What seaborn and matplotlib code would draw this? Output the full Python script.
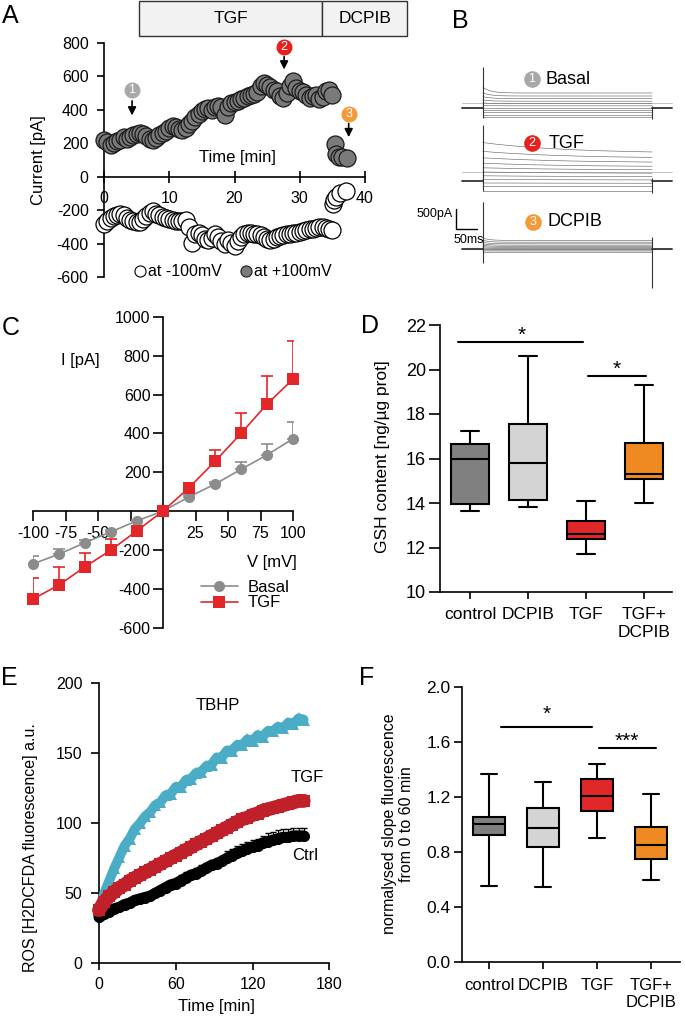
import numpy as np
import pandas as pd
import matplotlib
matplotlib.use("Agg")
import matplotlib.pyplot as plt
import matplotlib.transforms as mtransforms
from matplotlib.lines import Line2D
from matplotlib.patches import Rectangle
import seaborn as sns

# ---------------- Panel A data ----------------
a_time = [0, 0.5, 1, 1.5, 2, 2.5, 3, 3.5, 4, 4.5, 5, 5.5, 6, 6.5, 7, 7.5, 8, 8.5, 9, 9.5,
          10, 10.5, 11, 11.5, 12, 12.5, 13, 13.5, 14, 14.5, 15, 15.5, 16, 16.5, 17, 17.5,
          18, 18.5, 19, 19.5, 20, 20.5, 21, 21.5, 22, 22.5, 23, 23.5, 24, 24.5, 25, 25.5,
          26, 26.5, 27, 27.5, 28, 28.5, 29, 29.5, 30, 30.5, 31, 31.5, 32, 32.5, 33, 33.5,
          34, 34.5, 35]
a_pos = [222, 205, 190, 200, 215, 220, 235, 225, 240, 250, 255, 262, 258, 245, 225, 218,
         232, 250, 262, 275, 290, 305, 300, 285, 280, 290, 315, 335, 355, 375, 395, 405,
         410, 400, 415, 425, 420, 372, 415, 440, 450, 455, 465, 470, 480, 488, 495, 505,
         540, 560, 550, 535, 520, 510, 480, 470, 500, 540, 570, 530, 515, 505, 490, 470,
         480, 490, 462, 475, 510, 520, 490]
a_neg = [-285, -265, -245, -235, -228, -222, -232, -248, -258, -265, -272, -268, -255,
         -235, -215, -208, -222, -232, -240, -248, -252, -258, -262, -265, -262, -258,
         -300, -395, -345, -335, -350, -370, -378, -365, -345, -360, -385, -405, -380,
         -395, -412, -385, -360, -345, -338, -335, -345, -340, -350, -360, -370, -378,
         -372, -362, -355, -350, -345, -345, -338, -335, -330, -322, -318, -312, -310,
         -305, -302, -300, -305, -312, -320]
a_dcpib_time_pos = [35.4, 35.6, 36.0, 36.5, 37.2]
a_dcpib_pos = [195, 135, 118, 120, 112]
a_dcpib_time_neg = [35.1, 35.3, 35.6, 36.1, 37.1]
a_dcpib_neg = [-165, -140, -120, -100, -88]
treat_labels = ["TGF", "DCPIB"]
treat_start = [5.4, 33.4]
treat_end = [33.4, 46.5]
badge_ids = ["1", "2", "3"]
badge_colors = ["#a8a8a8", "#e3221f", "#f39a3a"]
badge_time = [4.3, 27.6, 37.5]
badge_level = [521, 778, 377]
arrow_from = [470, 735, 335]
arrow_to = [350, 625, 220]

# ---------------- Panel B data (current traces, ms / pA) ----------------
b_names = ["Basal", "TGF", "DCPIB"]
b_baseline = [4800, 2975, 1275]
b_end = [[-225, -165, -110, -55, 0, 55, 110, 170, 235, 300, 375],
         [-242, -142, -57, 25, 108, 192, 275, 357, 457, 567, 690],
         [-75, -50, -25, -5, 15, 40, 65, 95, 130, 170, 215]]
b_onset = [[-225, -165, -110, -55, 0, 60, 125, 200, 285, 380, 520],
           [-242, -140, -50, 40, 130, 225, 330, 445, 580, 740, 960],
           [-75, -48, -20, 5, 30, 60, 95, 130, 170, 220, 275]]
b_tau = [18, 200, 15]
b_spike_on = [(-240, 1025), (-260, 1400), (-350, 1180)]
b_spike_off = [(-280, 60), (-300, 80), (-975, 310)]
b_zero = [125, 225, 0]
b_t_start, b_t_on, b_t_off, b_t_end = 52, 102, 505, 552
b_badge_t = [219, 219, 221]
b_badge_y = [5525, 3925, 1950]
b_label_t = [250, 259, 257]
sb_t0, sb_ms, sb_y0, sb_pA = 38, 50, 1775, 500

# ---------------- Panel C data ----------------
c_voltage = [-100, -80, -60, -40, -20, 0, 20, 40, 60, 80, 100]
c_basal = [-272, -222, -163, -107, -50, 0, 73, 139, 215, 289, 373]
c_basal_err = [40, 25, 15, 10, 6, 0, 8, 10, 40, 57, 88]
c_tgf = [-453, -381, -287, -201, -101, 0, 120, 256, 400, 551, 680]
c_tgf_err = [107, 95, 69, 55, 12, 0, 12, 58, 103, 146, 198]

# ---------------- Panel D data (five-number summaries) ----------------
groups = ["control", "DCPIB", "TGF", "TGF+\nDCPIB"]
box_colors = ["#808080", "#d4d4d4", "#e02828", "#ef8a23"]
d_min = [13.65, 13.80, 11.70, 14.00]
d_q1 = [13.95, 14.15, 12.38, 15.09]
d_med = [15.96, 15.78, 12.59, 15.30]
d_q3 = [16.65, 17.53, 13.19, 16.68]
d_max = [17.24, 20.60, 14.09, 19.30]

# ---------------- Panel E data ----------------
e_time = [0, 4, 8, 12, 16, 20, 24, 28, 32, 36, 40, 44, 48, 52, 56, 60, 64, 68, 72, 76, 80,
          84, 88, 92, 96, 100, 104, 108, 112, 116, 120, 124, 128, 132, 136, 140, 144, 148,
          152, 156, 160]
e_tbhp = [38, 50, 59, 68, 76, 84, 89, 96, 100, 105, 108, 113, 115, 120, 121, 126, 126, 131,
          132, 136, 137, 141, 142, 147, 147, 152, 152, 156, 156, 160, 159, 163, 162, 166,
          166, 169, 168, 172, 171, 175, 174]
e_tgf = [38, 44, 48, 51, 54, 56, 59, 61, 63, 65, 67, 69, 71, 73, 75, 77, 79, 81, 83, 85, 87,
         89, 91, 93, 95, 97, 99, 101, 103, 104, 106, 107, 109, 110, 111, 112, 113, 114, 115,
         116, 116]
e_tgf_err = [1, 2, 2, 2, 2, 2, 2, 2, 2, 3, 3, 3, 3, 3, 3, 3, 3, 3, 3, 3, 3, 3, 3, 3, 3, 3, 3,
             3, 3, 3, 3, 3, 3, 4, 4, 4, 4, 4, 4, 4, 4]
e_ctrl = [33, 35, 37, 39, 40, 42, 43, 45, 46, 47, 48, 50, 52, 54, 56, 57, 59, 61, 63, 64, 66,
          68, 70, 71, 73, 75, 77, 79, 80, 82, 83, 84, 86, 87, 88, 89, 90, 90, 91, 91, 91]
e_ctrl_err = [1, 2, 2, 2, 2, 2, 2, 3, 3, 3, 3, 3, 3, 3, 3, 3, 4, 4, 4, 4, 4, 4, 4, 4, 4, 5, 5,
              5, 5, 5, 5, 5, 5, 6, 6, 6, 6, 6, 6, 6, 6]

# ---------------- Panel F data ----------------
f_min = [0.556, 0.549, 0.900, 0.600]
f_q1 = [0.924, 0.837, 1.100, 0.750]
f_med = [1.006, 0.972, 1.207, 0.851]
f_q3 = [1.054, 1.122, 1.330, 0.979]
f_max = [1.364, 1.308, 1.437, 1.224]

# ================= figure =================
sns.set_style("ticks")
plt.rcParams["font.family"] = ["Liberation Sans", "DejaVu Sans"]
plt.rcParams["axes.unicode_minus"] = False
plt.rcParams["axes.linewidth"] = 1.2
plt.rcParams["axes.edgecolor"] = "black"
plt.rcParams["text.color"] = "black"
plt.rcParams["axes.labelcolor"] = "black"
plt.rcParams["xtick.major.width"] = 1.2
plt.rcParams["ytick.major.width"] = 1.2
plt.rcParams["xtick.color"] = "black"
plt.rcParams["ytick.color"] = "black"
plt.rcParams["xtick.labelcolor"] = "black"
plt.rcParams["ytick.labelcolor"] = "black"

W, H = 685, 1019
fig = plt.figure(figsize=(W / 100, H / 100), dpi=100)
fig.patch.set_facecolor("white")


def add_ax(x0, y0, x1, y1):
    return fig.add_axes([x0 / W, 1 - y1 / H, (x1 - x0) / W, (y1 - y0) / H])


def ftext(x, y, s, **kw):
    fig.text(x / W, 1 - y / H, s, **kw)


for lab, (x, y) in zip("ABCDEF", [(10, 16), (460, 21), (11, 328), (370, 326), (9, 678), (367, 678)]):
    ftext(x, y, lab, fontsize=18, ha="center", va="center")

# ---------------- Panel A ----------------
axA = add_ax(104, 43, 365, 277)
axA.set_xlim(0, 40)
axA.set_ylim(-600, 800)
sns.despine(ax=axA)
axA.spines["bottom"].set_position(("data", 0))
axA.set_xticks([0, 10, 20, 30, 40])
axA.set_yticks(range(-600, 801, 200))
axA.tick_params(axis="x", direction="inout", length=8, pad=6, labelsize=11.5)
axA.tick_params(axis="y", direction="out", length=5, pad=6, labelsize=11.5)
sns.scatterplot(x=a_time, y=a_neg, ax=axA, s=150, color="white", edgecolor="black",
                linewidth=0.9, zorder=3, clip_on=False)
sns.scatterplot(x=a_time, y=a_pos, ax=axA, s=150, color="#7a7a7a", edgecolor="#1a1a1a",
                linewidth=0.9, zorder=3, clip_on=False)
sns.scatterplot(x=a_dcpib_time_neg, y=a_dcpib_neg, ax=axA, s=150, color="white",
                edgecolor="black", linewidth=0.9, zorder=3, clip_on=False)
sns.scatterplot(x=a_dcpib_time_pos, y=a_dcpib_pos, ax=axA, s=150, color="#7a7a7a",
                edgecolor="#1a1a1a", linewidth=0.9, zorder=3, clip_on=False)
trA = mtransforms.blended_transform_factory(axA.transData, axA.transAxes)
for lab, t0, t1 in zip(treat_labels, treat_start, treat_end):
    axA.add_patch(Rectangle((t0, 1.03), t1 - t0, 0.148, transform=trA, clip_on=False,
                            facecolor="#f2f2f2", edgecolor="#333333", lw=1.0))
    axA.text((t0 + t1) / 2, 1.104, lab, transform=trA, ha="center", va="center",
             fontsize=12.5)
for bid, col, t, lv, yf, yt in zip(badge_ids, badge_colors, badge_time, badge_level,
                                   arrow_from, arrow_to):
    axA.scatter([t], [lv], s=110, color=col, zorder=5, clip_on=False)
    axA.text(t, lv, bid, color="white", ha="center", va="center", fontsize=9,
             zorder=6, clip_on=False)
    axA.annotate("", xy=(t, yt), xytext=(t, yf),
                 arrowprops=dict(arrowstyle="-|>", color="black", lw=1.2,
                                 mutation_scale=12), annotation_clip=False)
axA.text(20.5, 115, "Time [min]", ha="center", va="center", fontsize=12)
ftext(38, 160, "Current [pA]", rotation=90, ha="center", va="center", fontsize=12)
legA = [Line2D([], [], marker="o", ls="", mfc="white", mec="black", ms=8, mew=0.8),
        Line2D([], [], marker="o", ls="", mfc="#7a7a7a", mec="#1a1a1a", ms=8, mew=0.8)]
axA.legend(legA, ["at -100mV", "at +100mV"], loc="center", ncol=2, frameon=False,
           bbox_to_anchor=(232 / W, 1 - 272 / H), bbox_transform=fig.transFigure,
           handletextpad=0.0, columnspacing=1.0, handlelength=1.0, fontsize=11.5)

# ---------------- Panel B ----------------
axB = add_ax(440, 55, 680, 300)
axB.set_xlim(0, 571.4)
axB.set_ylim(0, 6125)
axB.axis("off")
pulse_t = np.linspace(b_t_on, b_t_off, 200)
for k in range(3):
    base = b_baseline[k]
    axB.plot([b_t_start, b_t_end], [base + b_zero[k]] * 2, color="#c4c4c4", lw=0.7)
    for e_lv, o_lv in zip(b_end[k], b_onset[k]):
        curve = e_lv + (o_lv - e_lv) * np.exp(-(pulse_t - b_t_on) / b_tau[k])
        axB.plot(pulse_t, base + curve, color="#6a6a6a", lw=0.45)
    axB.plot([b_t_start, b_t_on], [base, base], color="#333333", lw=1.3)
    axB.plot([b_t_off, b_t_end], [base, base], color="#333333", lw=1.3)
    axB.vlines(b_t_on, base + b_spike_on[k][0], base + b_spike_on[k][1], color="#333333", lw=0.8)
    axB.vlines(b_t_off, base + b_spike_off[k][0], base + b_spike_off[k][1], color="#333333", lw=0.8)
    axB.scatter([b_badge_t[k]], [b_badge_y[k]], s=120, color=badge_colors[k], zorder=5)
    axB.text(b_badge_t[k], b_badge_y[k], badge_ids[k], color="white", ha="center",
             va="center", fontsize=9, zorder=6)
    axB.text(b_label_t[k], b_badge_y[k], b_names[k], ha="left", va="center", fontsize=13)
axB.plot([sb_t0, sb_t0, sb_t0 + sb_ms], [sb_y0 + sb_pA, sb_y0, sb_y0], color="black", lw=1.0)
axB.text(sb_t0 - 8, sb_y0 + sb_pA * 0.75, "500pA", ha="right", va="center", fontsize=9)
axB.text(sb_t0 + sb_ms / 2 + 6, sb_y0 - 280, "50ms", ha="center", va="center", fontsize=9)

# ---------------- Panel C ----------------
axC = add_ax(33, 317, 293, 627.5)
axC.set_xlim(-100, 100)
axC.set_ylim(-600, 1000)
sns.despine(ax=axC)
axC.spines["left"].set_position(("data", 0))
axC.spines["bottom"].set_position(("data", 0))
axC.set_xticks([-100, -75, -50, -25, 25, 50, 75, 100])
axC.set_xticklabels(["-100", "-75", "-50", "", "25", "50", "75", "100"])
axC.set_yticks([-600, -400, -200, 200, 400, 600, 800, 1000])
axC.tick_params(axis="x", direction="out", length=7, pad=4, labelsize=11.5)
axC.tick_params(axis="y", direction="out", length=7, pad=2, labelsize=11.5)
gray, red = "#8c8c8c", "#e3262a"
axC.errorbar(c_voltage, c_basal, yerr=[np.zeros(len(c_basal)), c_basal_err], fmt="none",
             ecolor=gray, capsize=4, elinewidth=1.2, capthick=1.2, zorder=3)
axC.errorbar(c_voltage, c_tgf, yerr=[np.zeros(len(c_tgf)), c_tgf_err], fmt="none",
             ecolor=red, capsize=4, elinewidth=1.2, capthick=1.2, zorder=3)
sns.lineplot(x=c_voltage, y=c_basal, ax=axC, color=gray, marker="o", markersize=8,
             markeredgewidth=0, linewidth=1.2, zorder=4, clip_on=False)
sns.lineplot(x=c_voltage, y=c_tgf, ax=axC, color=red, marker="s", markersize=8,
             markeredgewidth=0, linewidth=1.2, zorder=5, clip_on=False)
legC = [Line2D([], [], color=gray, marker="o", ms=8, mew=0, lw=1.2),
        Line2D([], [], color=red, marker="s", ms=8, mew=0, lw=1.2)]
axC.legend(legC, ["Basal", "TGF"], loc="center left", frameon=False,
           bbox_to_anchor=(186 / W, 1 - 595 / H), bbox_transform=fig.transFigure,
           handlelength=2.2, handletextpad=0.6, labelspacing=0.05, fontsize=12)
ftext(80, 360, "I [pA]", ha="center", va="center", fontsize=12)
ftext(272, 563, "V [mV]", ha="center", va="center", fontsize=12)


# ---------------- box panels ----------------
def box_panel(ax, mins, q1s, meds, q3s, maxs, width):
    rows = []
    for g, a, b, c, d, e in zip(groups, mins, q1s, meds, q3s, maxs):
        for v in (a, b, c, d, e):
            rows.append((g, v))
    df = pd.DataFrame(rows, columns=["group", "value"])
    sns.boxplot(data=df, x="group", y="value", hue="group", order=groups,
                hue_order=groups, palette=dict(zip(groups, box_colors)), width=width,
                saturation=1, linewidth=1.5, linecolor="black", whis=(0, 100),
                showfliers=False, legend=False, ax=ax)
    ax.set_xlabel("")
    ax.set_ylabel("")
    sns.despine(ax=ax)


axD = add_ax(440, 325, 672, 592)
box_panel(axD, d_min, d_q1, d_med, d_q3, d_max, 0.64)
axD.set_xlim(-0.517, 3.483)
axD.set_ylim(10, 22)
axD.set_yticks(range(10, 23, 2))
axD.tick_params(axis="y", length=8, pad=2, labelsize=13)
axD.tick_params(axis="x", length=5, pad=6, labelsize=12.5)
axD.plot([-0.21, 1.95], [21.25, 21.25], color="black", lw=1.5, clip_on=False)
axD.text(0.9, 21.55, "*", ha="center", va="center", fontsize=15, clip_on=False)
axD.plot([2.03, 3.03], [19.7, 19.7], color="black", lw=1.5, clip_on=False)
axD.text(2.53, 20.0, "*", ha="center", va="center", fontsize=15, clip_on=False)
ftext(383, 457, "GSH content [ng/µg prot]", rotation=90, ha="center", va="center",
      fontsize=12.5)

axF = add_ax(461.7, 686.7, 680, 962.3)
box_panel(axF, f_min, f_q1, f_med, f_q3, f_max, 0.61)
axF.set_xlim(-0.506, 3.537)
axF.set_ylim(0, 2)
axF.set_yticks([0.0, 0.4, 0.8, 1.2, 1.6, 2.0])
axF.set_yticklabels(["0.0", "0.4", "0.8", "1.2", "1.6", "2.0"])
axF.tick_params(axis="y", length=6, pad=2, labelsize=12.5)
axF.tick_params(axis="x", length=5, pad=6, labelsize=12)
axF.plot([0.217, 1.9], [1.71, 1.71], color="black", lw=1.5, clip_on=False)
axF.text(1.07, 1.80, "*", ha="center", va="center", fontsize=15, clip_on=False)
axF.plot([2.04, 3.09], [1.553, 1.553], color="black", lw=1.5, clip_on=False)
axF.text(2.56, 1.60, "***", ha="center", va="center", fontsize=15, clip_on=False)
ftext(398, 824, "normalysed slope fluorescence\nfrom 0 to 60 min", rotation=90,
      ha="center", va="center", fontsize=11.5, linespacing=1.1)

# ---------------- Panel E ----------------
axE = add_ax(99, 683.3, 329.3, 963.3)
axE.set_xlim(0, 180)
axE.set_ylim(0, 200)
sns.despine(ax=axE)
axE.set_xticks([0, 60, 120, 180])
axE.set_yticks([0, 50, 100, 150, 200])
axE.tick_params(axis="y", length=6, pad=6, labelsize=11.5)
axE.tick_params(axis="x", length=5, pad=5, labelsize=11.5)
cyan, dred = "#4bacc6", "#c0202a"
sns.lineplot(x=e_time, y=e_tbhp, ax=axE, color=cyan, linewidth=7, marker="^",
             markersize=8, markeredgewidth=0, zorder=3, clip_on=False)
axE.errorbar(e_time, e_ctrl, yerr=[np.zeros(len(e_ctrl)), e_ctrl_err], fmt="none",
             ecolor="black", capsize=2, elinewidth=0.8, zorder=3)
sns.lineplot(x=e_time, y=e_ctrl, ax=axE, color="black", linewidth=8, marker="o",
             markersize=8, markeredgewidth=0, zorder=4, clip_on=False)
axE.errorbar(e_time, e_tgf, yerr=[np.zeros(len(e_tgf)), e_tgf_err], fmt="none",
             ecolor="black", capsize=2, elinewidth=0.8, zorder=4)
sns.lineplot(x=e_time, y=e_tgf, ax=axE, color=dred, linewidth=10, marker="s",
             markersize=8, markeredgewidth=0, zorder=5, clip_on=False)
axE.text(93, 184, "TBHP", ha="center", va="center", fontsize=12)
axE.text(163, 133, "TGF", ha="center", va="center", fontsize=12)
axE.text(161, 77, "Ctrl", ha="center", va="center", fontsize=12)
ftext(216, 1006, "Time [min]", ha="center", va="center", fontsize=12)
ftext(31, 848, "ROS [H2DCFDA fluorescence] a.u.", rotation=90, ha="center",
      va="center", fontsize=11.5)

fig.savefig("out.png", dpi=100, facecolor="white")
